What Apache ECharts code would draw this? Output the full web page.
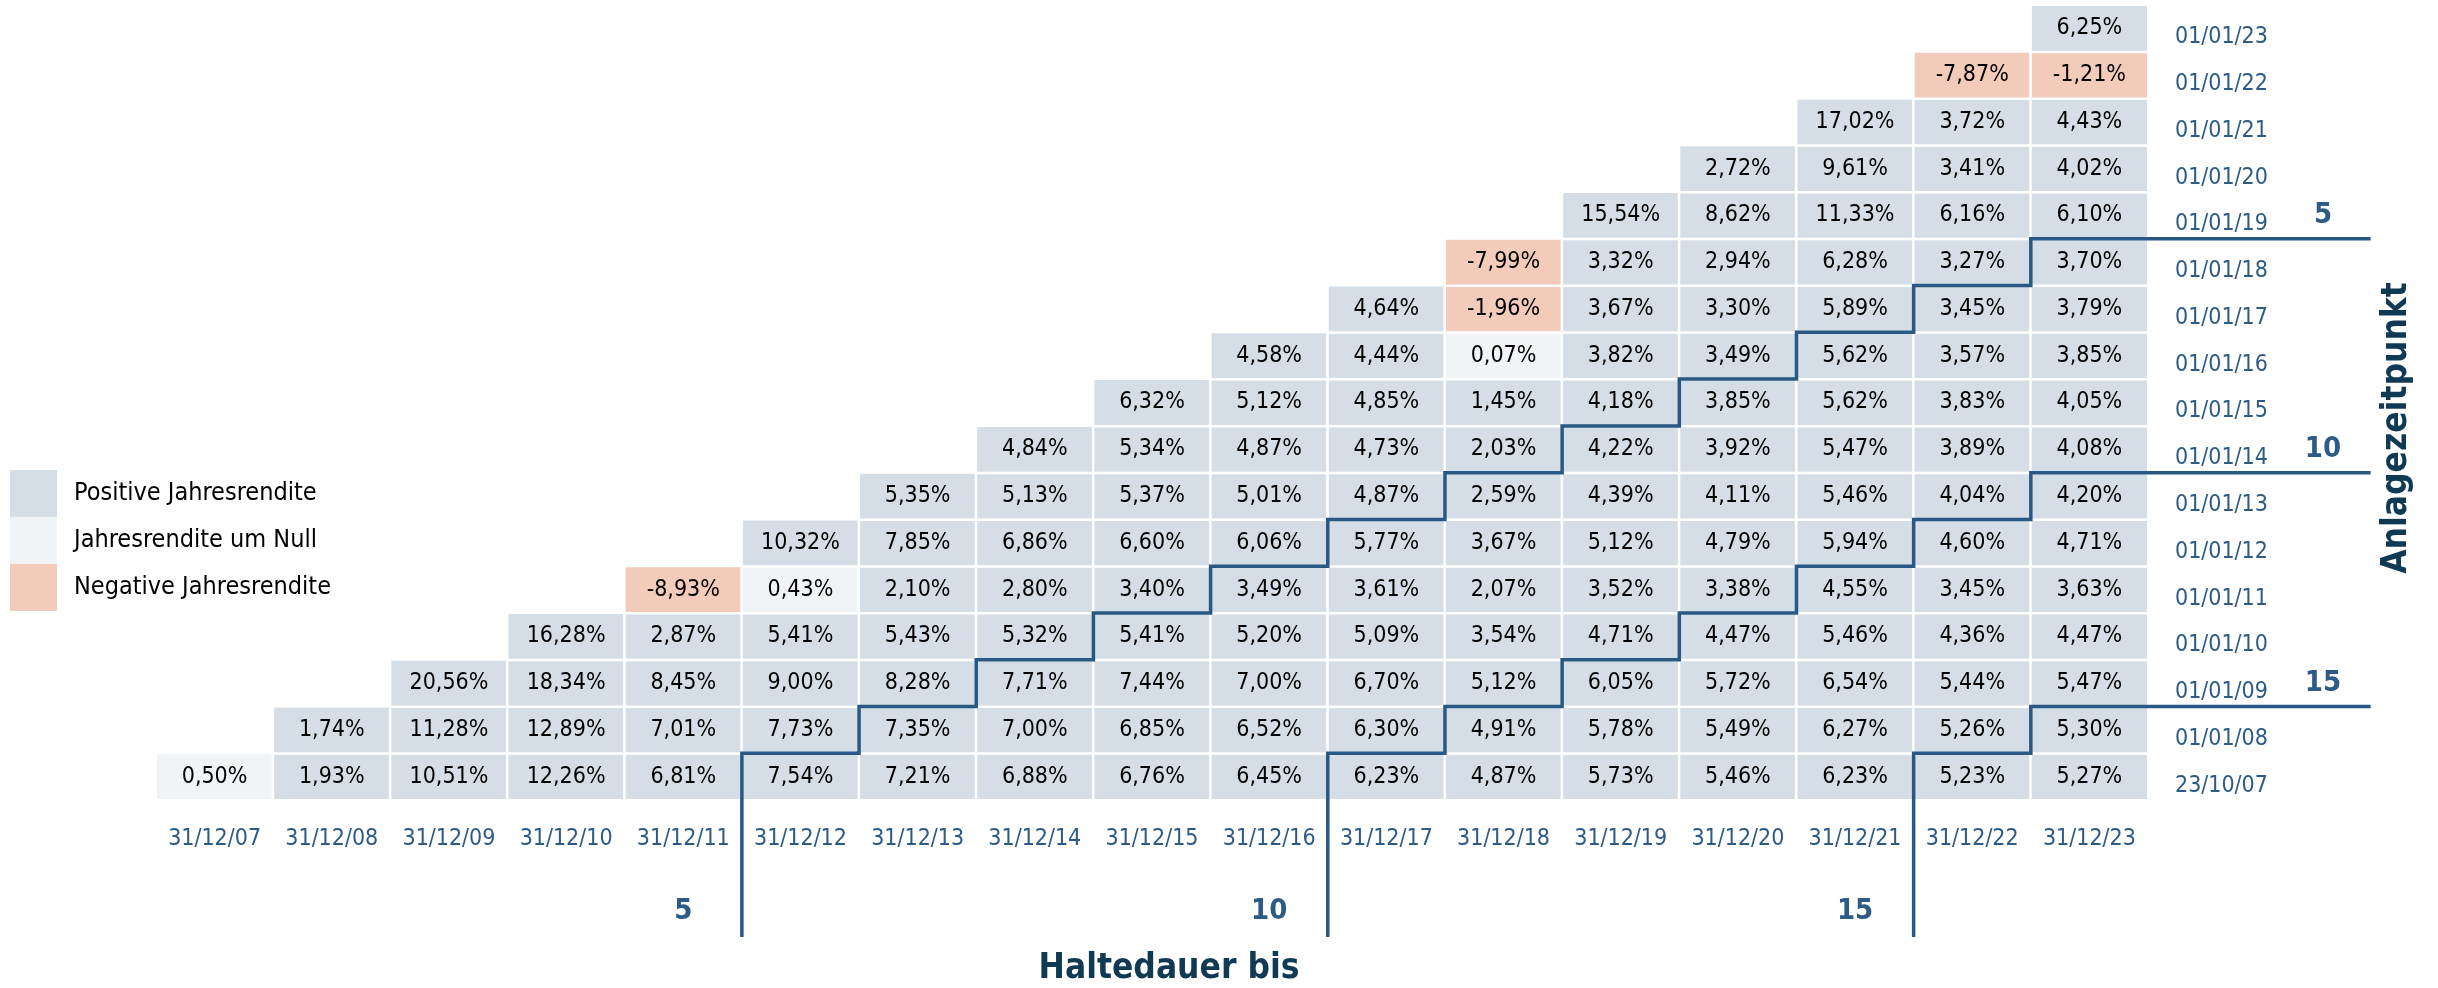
<!DOCTYPE html>
<html><head><meta charset="utf-8">
<script src="https://cdn.jsdelivr.net/npm/echarts@6/dist/echarts.min.js"></script>
<style>html,body{margin:0;padding:0;background:#fff}#c{width:2438px;height:988px}</style>
</head><body><div id="c"></div>
<script>
// End of holding period (columns)
const endDates = ['31/12/07','31/12/08','31/12/09','31/12/10','31/12/11','31/12/12','31/12/13','31/12/14','31/12/15','31/12/16','31/12/17','31/12/18','31/12/19','31/12/20','31/12/21','31/12/22','31/12/23'];
// Investment start dates (rows, bottom to top)
const startDates = ['23/10/07','01/01/08','01/01/09','01/01/10','01/01/11','01/01/12','01/01/13','01/01/14','01/01/15','01/01/16','01/01/17','01/01/18','01/01/19','01/01/20','01/01/21','01/01/22','01/01/23'];
// Annualised returns (%) per start date, from the first possible end date onward
const ret_231007 = [0.50, 1.93, 10.51, 12.26, 6.81, 7.54, 7.21, 6.88, 6.76, 6.45, 6.23, 4.87, 5.73, 5.46, 6.23, 5.23, 5.27];
const ret_010108 = [1.74, 11.28, 12.89, 7.01, 7.73, 7.35, 7.00, 6.85, 6.52, 6.30, 4.91, 5.78, 5.49, 6.27, 5.26, 5.30];
const ret_010109 = [20.56, 18.34, 8.45, 9.00, 8.28, 7.71, 7.44, 7.00, 6.70, 5.12, 6.05, 5.72, 6.54, 5.44, 5.47];
const ret_010110 = [16.28, 2.87, 5.41, 5.43, 5.32, 5.41, 5.20, 5.09, 3.54, 4.71, 4.47, 5.46, 4.36, 4.47];
const ret_010111 = [-8.93, 0.43, 2.10, 2.80, 3.40, 3.49, 3.61, 2.07, 3.52, 3.38, 4.55, 3.45, 3.63];
const ret_010112 = [10.32, 7.85, 6.86, 6.60, 6.06, 5.77, 3.67, 5.12, 4.79, 5.94, 4.60, 4.71];
const ret_010113 = [5.35, 5.13, 5.37, 5.01, 4.87, 2.59, 4.39, 4.11, 5.46, 4.04, 4.20];
const ret_010114 = [4.84, 5.34, 4.87, 4.73, 2.03, 4.22, 3.92, 5.47, 3.89, 4.08];
const ret_010115 = [6.32, 5.12, 4.85, 1.45, 4.18, 3.85, 5.62, 3.83, 4.05];
const ret_010116 = [4.58, 4.44, 0.07, 3.82, 3.49, 5.62, 3.57, 3.85];
const ret_010117 = [4.64, -1.96, 3.67, 3.30, 5.89, 3.45, 3.79];
const ret_010118 = [-7.99, 3.32, 2.94, 6.28, 3.27, 3.70];
const ret_010119 = [15.54, 8.62, 11.33, 6.16, 6.10];
const ret_010120 = [2.72, 9.61, 3.41, 4.02];
const ret_010121 = [17.02, 3.72, 4.43];
const ret_010122 = [-7.87, -1.21];
const ret_010123 = [6.25];
// Holding-period markers (years)
const holdingMarks = [5, 10, 15];
// Legend classes
const classLabels = ['Negative Jahresrendite', 'Jahresrendite um Null', 'Positive Jahresrendite'];

const rows = [ret_231007, ret_010108, ret_010109, ret_010110, ret_010111, ret_010112, ret_010113, ret_010114, ret_010115, ret_010116, ret_010117, ret_010118, ret_010119, ret_010120, ret_010121, ret_010122, ret_010123];
const heatData = [];
rows.forEach((arr, s) => arr.forEach((v, k) => heatData.push([s + k, s, v])));

const nCols = endDates.length, nRows = startDates.length;
const extRight = 1.9, extDown = 2.93; // line overhang in cell units
function stairs(p) {
  const pts = [[p - 0.5, -0.5 - extDown]];
  const last = nCols - 1 - p;
  for (let s = 0; s <= last; s++) {
    const x = p - 0.5 + s;
    pts.push([x, s + 0.5]);
    if (s < last) pts.push([x + 1, s + 0.5]);
    else pts.push([nCols - 0.5 + extRight, s + 0.5]);
  }
  return pts;
}

const FONT = "'DejaVu Sans Condensed', 'Liberation Sans Narrow', sans-serif";
const BLUE = '#2d5b86';
const DARK = '#103a54';
const LINE = '#2a5884';
const fmt = v => v.toFixed(2).replace('.', ',') + '%';

const chart = echarts.init(document.getElementById('c'));
chart.setOption({
  animation: false,
  backgroundColor: '#ffffff',
  grid: { left: 156, right: 290, top: 5, bottom: 188 },
  xAxis: [
    { type: 'category', data: endDates, position: 'bottom', axisLine: {show: false}, axisTick: {show: false}, splitLine: {show: false},
      axisLabel: { interval: 0, margin: 28, fontSize: 23, color: BLUE, fontFamily: FONT } },
    { type: 'category', data: endDates, position: 'bottom', axisLine: {show: false}, axisTick: {show: false}, splitLine: {show: false},
      axisLabel: { interval: 0, margin: 97, fontSize: 29, fontWeight: 'bold', color: BLUE, fontFamily: FONT,
        formatter: (v, i) => holdingMarks.includes(i + 1) ? String(i + 1) : '' } },
    { type: 'value', show: false, min: -0.5, max: nCols - 0.5 }
  ],
  yAxis: [
    { type: 'category', data: startDates, position: 'right', axisLine: {show: false}, axisTick: {show: false}, splitLine: {show: false},
      axisLabel: { interval: 0, margin: 27, align: 'left', verticalAlign: 'top', lineHeight: 18, fontSize: 23, color: BLUE, fontFamily: FONT } },
    { type: 'category', data: startDates, position: 'right', axisLine: {show: false}, axisTick: {show: false}, splitLine: {show: false},
      axisLabel: { interval: 0, margin: 175, align: 'center', fontSize: 29, fontWeight: 'bold', color: BLUE, fontFamily: FONT,
        formatter: (v, i) => holdingMarks.includes(nRows - i) ? String(nRows - i) : '' } },
    { type: 'value', show: false, min: -0.5, max: nRows - 0.5 }
  ],
  visualMap: {
    type: 'piecewise', seriesIndex: 0, dimension: 2, orient: 'vertical',
    left: -5, top: 455, itemWidth: 47, itemHeight: 47, itemGap: 0, itemSymbol: 'rect', textGap: 17,
    selectedMode: false, hoverLink: false,
    textStyle: { fontSize: 25, color: '#000', fontFamily: FONT },
    pieces: [
      { lt: 0, color: '#f3cbba', label: classLabels[0] },
      { gte: 0, lt: 1, color: '#f0f4f7', label: classLabels[1] },
      { gte: 1, color: '#d5dee6', label: classLabels[2] }
    ]
  },
  graphic: [
    { type: 'text', x: 1169, y: 969, style: { text: 'Haltedauer bis', font: "bold 35px 'DejaVu Sans Condensed', sans-serif", fill: DARK, align: 'center', verticalAlign: 'middle' } },
    { type: 'text', x: 2397, y: 428, rotation: Math.PI / 2, style: { text: 'Anlagezeitpunkt', font: "bold 35px 'DejaVu Sans Condensed', sans-serif", fill: DARK, align: 'center', verticalAlign: 'middle' } }
  ],
  series: [
    { type: 'heatmap', xAxisIndex: 0, yAxisIndex: 0, data: heatData,
      itemStyle: { borderColor: '#ffffff', borderWidth: 2.5 },
      label: { show: true, formatter: p => fmt(p.value[2]), fontSize: 23, color: '#000', fontFamily: FONT },
      emphasis: { disabled: true } },
    { type: 'lines', coordinateSystem: 'cartesian2d', xAxisIndex: 2, yAxisIndex: 2, polyline: true, clip: false, silent: true, z: 5,
      data: holdingMarks.map(p => ({ coords: stairs(p) })),
      lineStyle: { color: LINE, width: 3.5, opacity: 1, curveness: 0 },
      effect: { show: false } }
  ]
});
</script></body></html>
